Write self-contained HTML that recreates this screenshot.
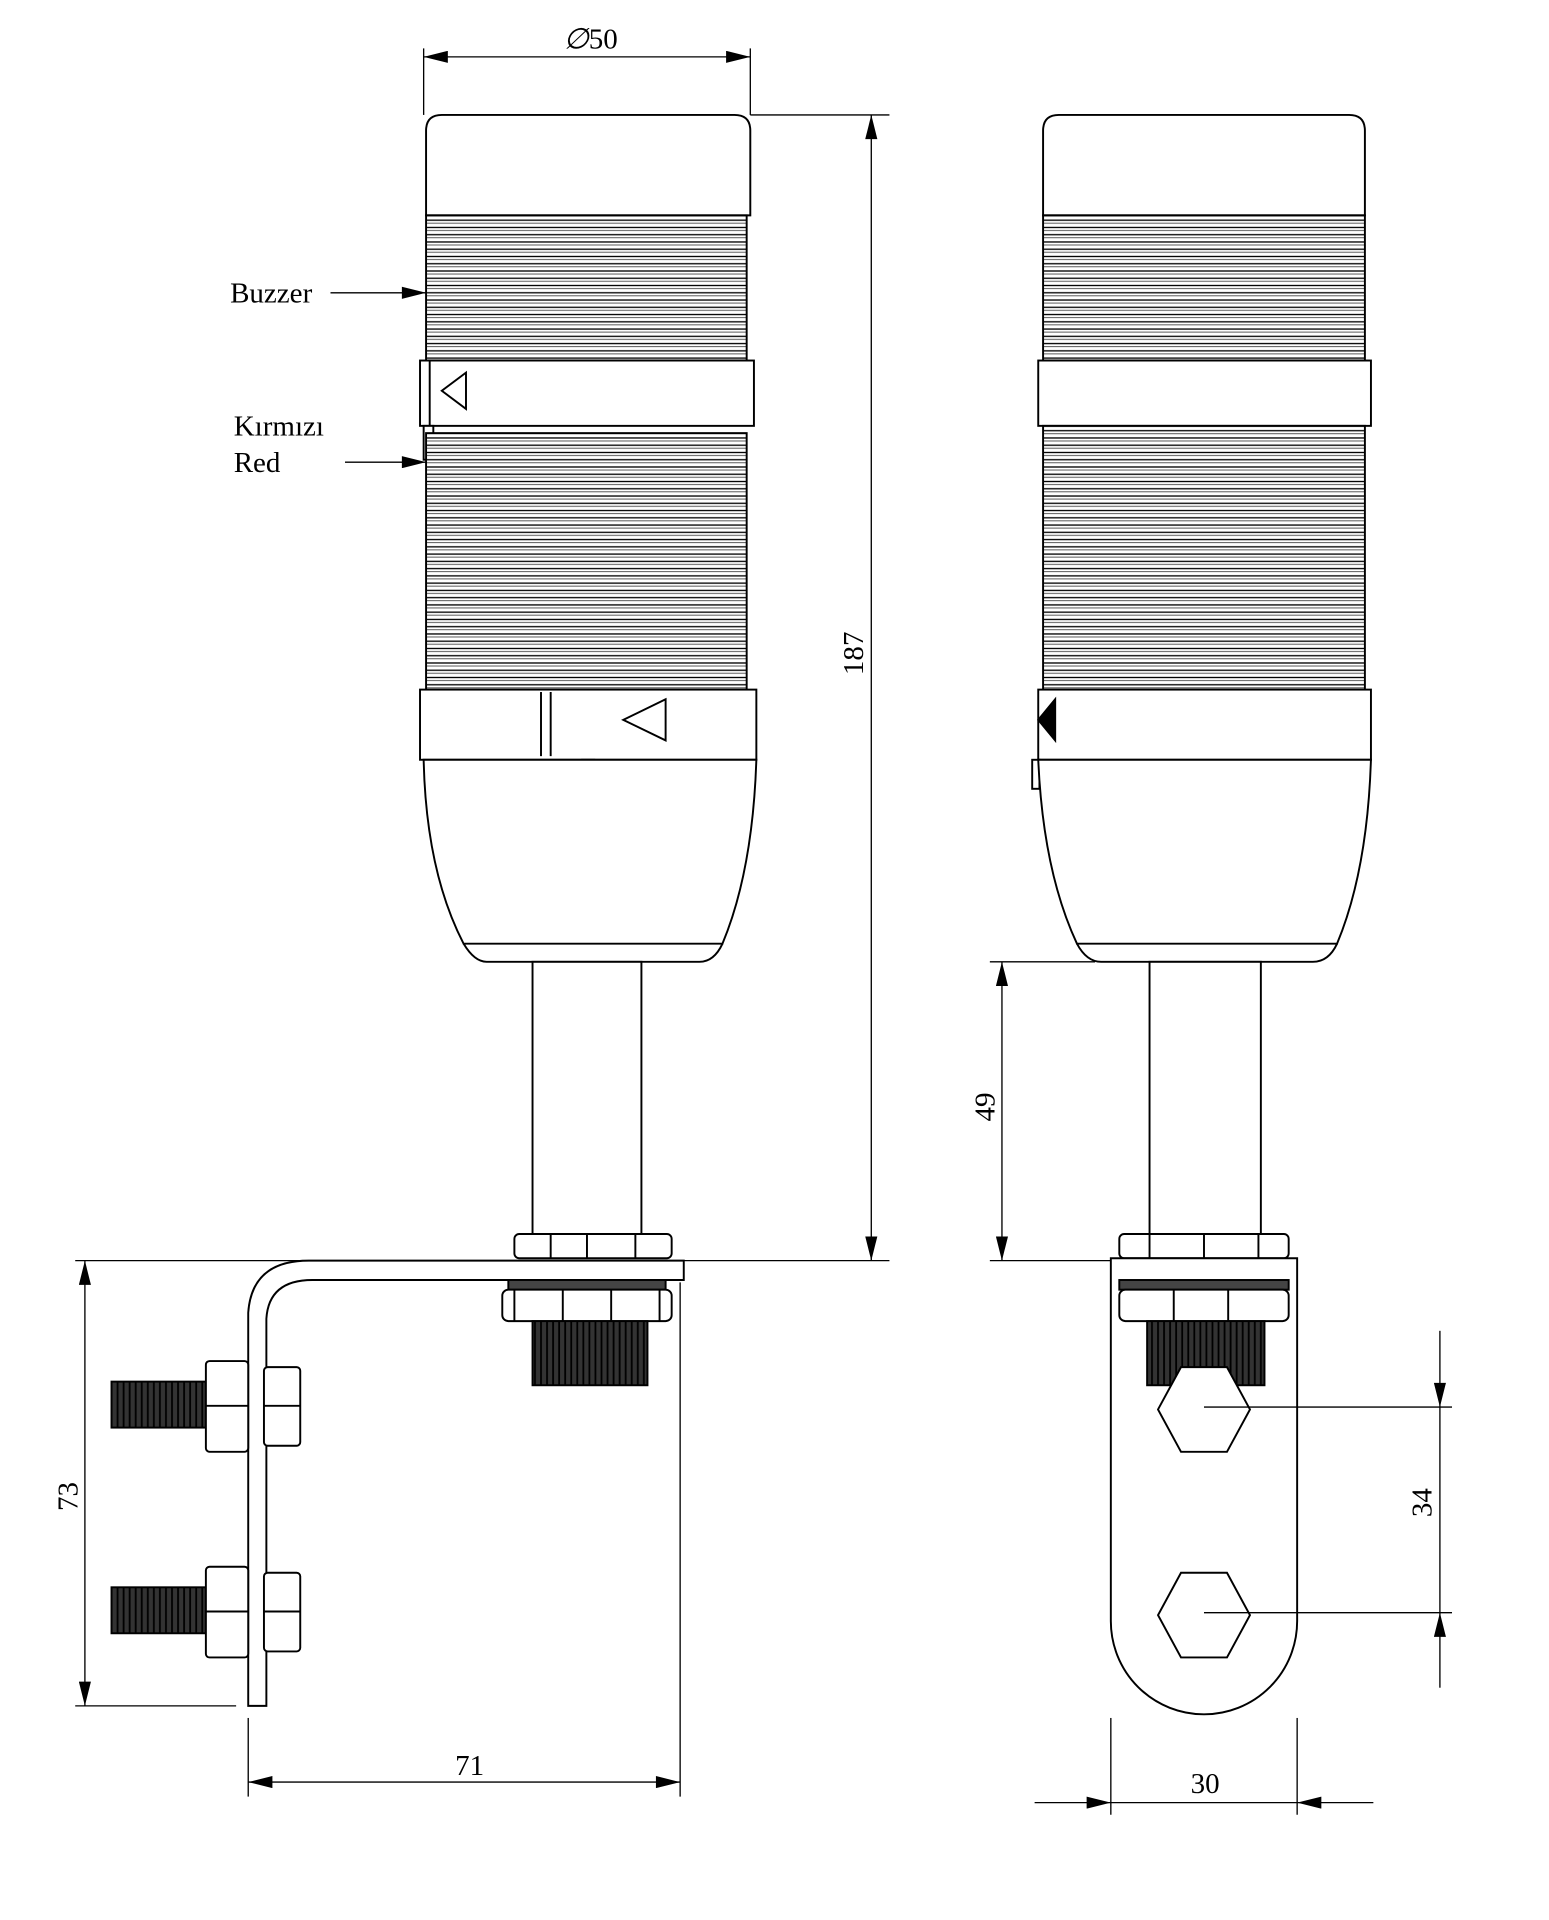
<!DOCTYPE html>
<html><head><meta charset="utf-8"><style>html,body{margin:0;padding:0;background:#fff}svg{display:block}</style></head>
<body>
<svg width="1549" height="1920" viewBox="0 0 1280 1587" xmlns="http://www.w3.org/2000/svg" font-family="Liberation Serif, serif">
<defs>
<marker id="a" viewBox="0 0 12 6" refX="12" refY="3" markerWidth="30" markerHeight="10" markerUnits="userSpaceOnUse" orient="auto-start-reverse"><path d="M0,0L12,3L0,6z" fill="#000"/></marker>
<pattern id="rib" width="10" height="6" patternUnits="userSpaceOnUse"><rect width="10" height="6" fill="#fff"/><line x1="0" y1="2" x2="10" y2="2" stroke="#000" stroke-width="1.1"/><line x1="0" y1="4.5" x2="10" y2="4.5" stroke="#555" stroke-width="0.8"/></pattern>
<pattern id="thr" width="5" height="10" patternUnits="userSpaceOnUse"><rect width="5" height="10" fill="#333"/><line x1="2" y1="0" x2="2" y2="10" stroke="#000" stroke-width="1.5"/></pattern>
</defs>
<g fill="none" stroke="#000" stroke-width="1.6">
<!-- LEFT VIEW -->
<path d="M352,178 V108 Q352,95 365,95 H607 Q620,95 620,108 V178 Z" fill="#fff"/>
<rect x="352" y="178" width="265" height="120" fill="url(#rib)"/>
<rect x="347" y="298" width="276" height="54" fill="#fff"/>
<line x1="355" y1="298" x2="355" y2="352"/>
<path d="M385,308 L365,323 L385,338 Z"/>
<rect x="350" y="352" width="8" height="28" fill="#fff"/>
<rect x="352" y="358" width="265" height="212" fill="url(#rib)"/>
<rect x="347" y="570" width="278" height="58" fill="#fff"/>
<line x1="447" y1="572" x2="447" y2="625"/><line x1="455" y1="572" x2="455" y2="625"/>
<path d="M550,578 L515,595 L550,612 Z"/>
<rect x="481" y="628" width="10" height="22" fill="#fff"/>
<path d="M350,628 Q352,720 383,780 H597 Q622,720 625,628 Z" fill="#fff"/>
<path d="M383,780 Q392,795 402,795 H578 Q590,795 597,780"/>
<rect x="440" y="795" width="90" height="225" fill="#fff"/>
<rect x="425" y="1020" width="130" height="20" rx="4" fill="#fff"/>
<line x1="455" y1="1020" x2="455" y2="1040"/><line x1="485" y1="1020" x2="485" y2="1040"/><line x1="525" y1="1020" x2="525" y2="1040"/>
<path d="M255,1042 H565 V1058 H258 Q222,1058 220,1090 V1410 H205 V1085 Q208,1042 255,1042 Z" fill="#fff"/>
<rect x="420" y="1058" width="130" height="8" fill="#444"/>
<rect x="415" y="1066" width="140" height="26" rx="5" fill="#fff"/>
<line x1="425" y1="1066" x2="425" y2="1092"/><line x1="465" y1="1066" x2="465" y2="1092"/><line x1="505" y1="1066" x2="505" y2="1092"/><line x1="545" y1="1066" x2="545" y2="1092"/>
<rect x="440" y="1092" width="95" height="53" fill="url(#thr)"/>
<rect x="92" y="1142" width="78" height="38" fill="url(#thr)"/>
<rect x="170" y="1125" width="35" height="75" rx="3" fill="#fff"/>
<line x1="170" y1="1162" x2="205" y2="1162"/>
<rect x="218" y="1130" width="30" height="65" rx="3" fill="#fff"/>
<line x1="218" y1="1162" x2="248" y2="1162"/>
<rect x="92" y="1312" width="78" height="38" fill="url(#thr)"/>
<rect x="170" y="1295" width="35" height="75" rx="3" fill="#fff"/>
<line x1="170" y1="1332" x2="205" y2="1332"/>
<rect x="218" y="1300" width="30" height="65" rx="3" fill="#fff"/>
<line x1="218" y1="1332" x2="248" y2="1332"/>
<!-- RIGHT VIEW -->
<path d="M862,178 V108 Q862,95 875,95 H1115 Q1128,95 1128,108 V178 Z" fill="#fff"/>
<rect x="862" y="178" width="266" height="120" fill="url(#rib)"/>
<rect x="858" y="298" width="275" height="54" fill="#fff"/>
<rect x="862" y="352" width="266" height="218" fill="url(#rib)"/>
<rect x="858" y="570" width="275" height="58" fill="#fff"/>
<path d="M872,578 L858,595 L872,612 Z" fill="#000"/>
<rect x="853" y="628" width="6" height="24" fill="#fff"/>
<path d="M858,628 Q862,720 890,780 H1105 Q1130,720 1133,628 Z" fill="#fff"/>
<path d="M890,780 Q898,795 910,795 H1085 Q1098,795 1105,780"/>
<rect x="950" y="795" width="92" height="225" fill="#fff"/>
<rect x="925" y="1020" width="140" height="20" rx="4" fill="#fff"/>
<line x1="950" y1="1020" x2="950" y2="1040"/><line x1="995" y1="1020" x2="995" y2="1040"/><line x1="1040" y1="1020" x2="1040" y2="1040"/>
<path d="M918,1040 H1072 V1340 A77,77 0 0 1 918,1340 Z" fill="#fff"/>
<rect x="925" y="1058" width="140" height="8" fill="#444"/>
<rect x="925" y="1066" width="140" height="26" rx="5" fill="#fff"/>
<line x1="970" y1="1066" x2="970" y2="1092"/><line x1="1015" y1="1066" x2="1015" y2="1092"/>
<rect x="948" y="1092" width="97" height="53" fill="url(#thr)"/>
<path d="M976,1130 H1014 L1033,1165 L1014,1200 H976 L957,1165 Z" fill="#fff"/>
<path d="M976,1300 H1014 L1033,1335 L1014,1370 H976 L957,1335 Z" fill="#fff"/>
</g>
<g stroke="#000" stroke-width="1.1" fill="none">
<line x1="350" y1="40" x2="350" y2="95"/><line x1="620" y1="40" x2="620" y2="95"/>
<line x1="350" y1="47" x2="620" y2="47" marker-start="url(#a)" marker-end="url(#a)"/>
<line x1="620" y1="95" x2="735" y2="95"/><line x1="565" y1="1042" x2="735" y2="1042"/>
<line x1="720" y1="95" x2="720" y2="1042" marker-start="url(#a)" marker-end="url(#a)"/>
<line x1="62" y1="1042" x2="255" y2="1042"/><line x1="62" y1="1410" x2="195" y2="1410"/>
<line x1="70" y1="1042" x2="70" y2="1410" marker-start="url(#a)" marker-end="url(#a)"/>
<line x1="205" y1="1420" x2="205" y2="1485"/><line x1="562" y1="1060" x2="562" y2="1485"/>
<line x1="205" y1="1473" x2="562" y2="1473" marker-start="url(#a)" marker-end="url(#a)"/>
<line x1="273" y1="242" x2="352" y2="242" marker-end="url(#a)"/>
<line x1="285" y1="382" x2="352" y2="382" marker-end="url(#a)"/>
<line x1="818" y1="795" x2="905" y2="795"/><line x1="818" y1="1042" x2="918" y2="1042"/>
<line x1="828" y1="795" x2="828" y2="1042" marker-start="url(#a)" marker-end="url(#a)"/>
<line x1="995" y1="1163" x2="1200" y2="1163"/><line x1="995" y1="1333" x2="1200" y2="1333"/>
<line x1="1190" y1="1100" x2="1190" y2="1163" marker-end="url(#a)"/>
<line x1="1190" y1="1163" x2="1190" y2="1333"/>
<line x1="1190" y1="1395" x2="1190" y2="1333" marker-end="url(#a)"/>
<line x1="918" y1="1420" x2="918" y2="1500"/><line x1="1072" y1="1420" x2="1072" y2="1500"/>
<line x1="855" y1="1490" x2="918" y2="1490" marker-end="url(#a)"/>
<line x1="918" y1="1490" x2="1072" y2="1490"/>
<line x1="1135" y1="1490" x2="1072" y2="1490" marker-end="url(#a)"/>
</g>
<g font-size="24" fill="#000">
<text x="488" y="40" text-anchor="middle"><tspan font-style="italic">∅</tspan>50</text>
<text transform="translate(713,540) rotate(-90)" text-anchor="middle">187</text>
<text transform="translate(64,1237) rotate(-90)" text-anchor="middle">73</text>
<text x="388" y="1467" text-anchor="middle">71</text>
<text transform="translate(822,915) rotate(-90)" text-anchor="middle">49</text>
<text transform="translate(1183,1242) rotate(-90)" text-anchor="middle">34</text>
<text x="996" y="1482" text-anchor="middle">30</text>
<text x="190" y="250">Buzzer</text>
<text x="193" y="360">Kırmızı</text>
<text x="193" y="390">Red</text>
</g>
</svg>
</body></html>
